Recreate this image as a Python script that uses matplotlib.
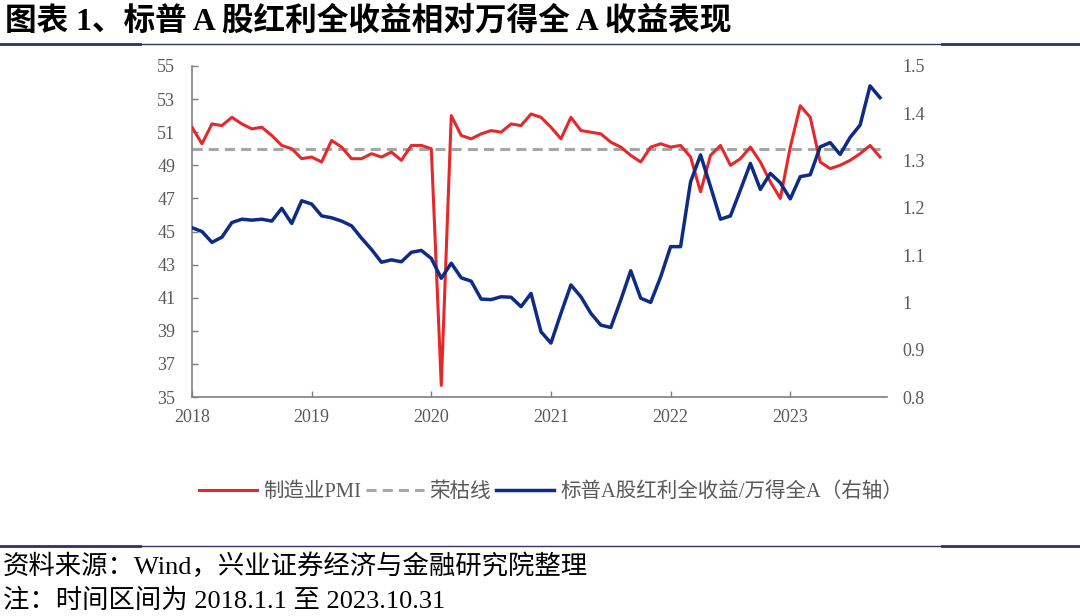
import numpy as np
import matplotlib
matplotlib.use("Agg")
import matplotlib.pyplot as plt
from matplotlib.lines import Line2D

plt.rcParams['font.family'] = ['Liberation Serif', 'Noto Sans CJK SC']
plt.rcParams['axes.unicode_minus'] = False

# 月度数据: 2018-01 ~ 2023-10
pmi = [51.3, 50.3, 51.5, 51.4, 51.9, 51.5, 51.2, 51.3, 50.8, 50.2, 50.0, 49.4,
       49.5, 49.2, 50.5, 50.1, 49.4, 49.4, 49.7, 49.5, 49.8, 49.3, 50.2, 50.2,
       50.0, 35.7, 52.0, 50.8, 50.6, 50.9, 51.1, 51.0, 51.5, 51.4, 52.1, 51.9,
       51.3, 50.6, 51.9, 51.1, 51.0, 50.9, 50.4, 50.1, 49.6, 49.2, 50.1, 50.3,
       50.1, 50.2, 49.5, 47.4, 49.6, 50.2, 49.0, 49.4, 50.1, 49.2, 48.0, 47.0,
       50.1, 52.6, 51.9, 49.2, 48.8, 49.0, 49.3, 49.7, 50.2, 49.5]
ratio = [1.158, 1.150, 1.127, 1.138, 1.169, 1.176, 1.174, 1.176, 1.172, 1.199, 1.167, 1.215,
         1.208, 1.183, 1.179, 1.172, 1.162, 1.136, 1.112, 1.085, 1.090, 1.086, 1.106, 1.110,
         1.093, 1.051, 1.083, 1.052, 1.045, 1.007, 1.006, 1.012, 1.011, 0.991, 1.019, 0.938,
         0.914, 0.977, 1.037, 1.012, 0.977, 0.952, 0.947, 1.005, 1.067, 1.009, 1.000, 1.054,
         1.118, 1.118, 1.255, 1.312, 1.245, 1.176, 1.183, 1.238, 1.294, 1.239, 1.273, 1.253,
         1.219, 1.266, 1.270, 1.329, 1.338, 1.313, 1.349, 1.375, 1.458, 1.433]
threshold = 50
years = ['2018', '2019', '2020', '2021', '2022', '2023']
left_ticks = [35, 37, 39, 41, 43, 45, 47, 49, 51, 53, 55]
right_ticks = [0.8, 0.9, 1.0, 1.1, 1.2, 1.3, 1.4, 1.5]
right_labels = ['0.8', '0.9', '1', '1.1', '1.2', '1.3', '1.4', '1.5']

x = np.arange(len(pmi))
gray = '#595959'
navy = '#2E3468'

fig = plt.figure(figsize=(10.8, 6.16), dpi=100)
ax = fig.add_axes([192/1080, 1 - 397/616, (887 - 192)/1080, (397 - 66)/616])
ax2 = ax.twinx()

l1, = ax.plot(x, pmi, color='#E5282B', lw=2.2, label='制造业PMI', zorder=3)
l2, = ax.plot(x, [threshold] * len(x), color='#A6A6A6', lw=2.2,
              linestyle=(0, (3.3, 2.0)), label='荣枯线', zorder=2)
l3, = ax2.plot(x, ratio, color='#0E2C84', lw=2.5,
               label='标普A股红利全收益/万得全A（右轴）', zorder=3)

ax.set_xlim(0, 69.7)
ax.set_ylim(35, 55)
ax.set_yticks(left_ticks)
ax.set_xticks(np.arange(0, 72, 12))
ax.set_xticklabels(years)
ax2.set_ylim(0.8, 1.5)
ax2.set_yticks(right_ticks)
ax2.set_yticklabels(right_labels)

for a in (ax, ax2):
    for s in a.spines.values():
        s.set_visible(False)
for s in ('left', 'bottom'):
    ax.spines[s].set_visible(True)
    ax.spines[s].set_color('#808080')
    ax.spines[s].set_linewidth(1.2)

ax.tick_params(axis='y', direction='in', length=4.5, width=1, color='#808080',
               labelsize=13, labelcolor=gray, pad=12)
ax.tick_params(axis='x', direction='in', length=4.5, width=1, color='#808080',
               labelsize=13, labelcolor=gray, pad=9)
ax2.tick_params(axis='y', length=0, labelsize=13, labelcolor=gray, pad=11)

fig.legend(handles=[l1, l2, l3], loc='center', bbox_to_anchor=(551/1080, 1 - 492/616),
           ncol=3, frameon=False, fontsize=14.8, handlelength=2.8,
           handletextpad=0.3, columnspacing=0.25, labelcolor=gray)

# 标题与来源
fig.text(5/1080, 1 - 22/616, '图表 1、标普 A 股红利全收益相对万得全 A 收益表现',
         fontsize=22.8, fontweight='bold', ha='left', va='center', color='black')
fig.text(3/1080, 1 - 566/616, '资料来源：Wind，兴业证券经济与金融研究院整理',
         fontsize=19, ha='left', va='center', color='black')
fig.text(3/1080, 1 - 601/616, '注：时间区间为 2018.1.1 至 2023.10.31',
         fontsize=19, ha='left', va='center', color='black')

# 分隔线
for yy in (43.5, 545.5):
    yf = 1 - yy/616
    fig.add_artist(Line2D([0, 1], [yf, yf], color=navy, lw=1.0))
    fig.add_artist(Line2D([0, 140/1080], [yf, yf], color=navy, lw=2.0))
    fig.add_artist(Line2D([942/1080, 1], [yf, yf], color=navy, lw=2.0))

fig.savefig('out.png', dpi=100)
